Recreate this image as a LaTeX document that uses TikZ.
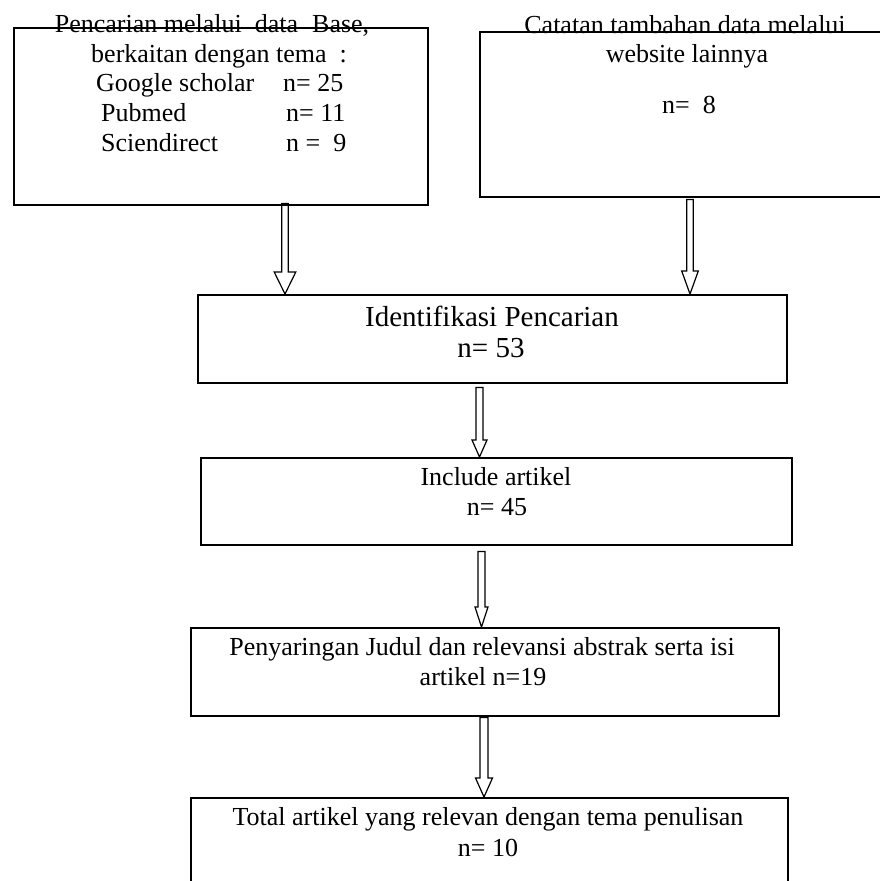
\documentclass[tikz,border=0pt]{standalone}
\usepackage{fontspec}
\setmainfont{Liberation Serif}
\usetikzlibrary{calc}
\tikzset{
  box/.style={draw, line width=1.5pt, rectangle, inner sep=0pt, anchor=north west},
  txt/.style={inner sep=0pt, font=\fontsize{26}{30}\selectfont},
  bigtxt/.style={inner sep=0pt, font=\fontsize{29}{33}\selectfont},
  arrowline/.style={draw, line width=1.2pt, line join=miter},
}
\newcommand\hollowarrow[5]{%
  \draw[arrowline] ($(#1)+(-#3,0)$) -- ($(#2)+(-#3,-#5)$) -- ($(#2)+(-#4,-#5)$) -- (#2)
    -- ($(#2)+(#4,-#5)$) -- ($(#2)+(#3,-#5)$) -- ($(#1)+(#3,0)$) -- cycle;}
\begin{document}
\begin{tikzpicture}[x=1pt,y=-1pt]
\useasboundingbox (0,0) rectangle (880,881);
\clip (0,0) rectangle (880,881);
% boxes
\node[box, minimum width=414pt, minimum height=177pt] (b1) at (13,27) {};
\node[box, minimum width=405pt, minimum height=165pt] (b2) at (479,31) {};
\node[box, minimum width=589pt, minimum height=88pt] (b3) at (197,294) {};
\node[box, minimum width=591pt, minimum height=87pt] (b4) at (200,457) {};
\node[box, minimum width=588pt, minimum height=88pt] (b5) at (190,627) {};
\node[box, minimum width=597pt, minimum height=100pt] (b6) at (190,797) {};
% texts box 1
\node[txt, anchor=base] (t1a) at (212,32) {Pencarian melalui\hspace{13pt}data\hspace{14pt}Base,};
\node[txt, anchor=base] (t1b) at (219,62) {berkaitan dengan tema~ :};
\node[txt, anchor=base west] (t1c) at (96,91) {Google scholar};
\node[txt, anchor=base west] (t1d) at (283,91) {n= 25};
\node[txt, anchor=base west] (t1e) at (101,121) {Pubmed};
\node[txt, anchor=base west] (t1f) at (286,121) {n= 11};
\node[txt, anchor=base west] (t1g) at (101,151) {Sciendirect};
\node[txt, anchor=base west] (t1h) at (286,151) {n =~ 9};
% texts box 2
\node[txt, anchor=base] (t2a) at (685,33) {Catatan tambahan data melalui};
\node[txt, anchor=base] (t2b) at (687,62) {website lainnya};
\node[txt, anchor=base] (t2c) at (689,113) {n=~ 8};
% texts lower boxes
\node[bigtxt, anchor=base] (t3a) at (492,326) {Identifikasi Pencarian};
\node[bigtxt, anchor=base] (t3b) at (491,357) {n= 53};
\node[txt, anchor=base] (t4a) at (496,485) {Include artikel};
\node[txt, anchor=base] (t4b) at (497,515) {n= 45};
\node[txt, anchor=base] (t5a) at (482,655) {Penyaringan Judul dan relevansi abstrak serta isi};
\node[txt, anchor=base] (t5b) at (483,685) {artikel n=19};
\node[txt, anchor=base] (t6a) at (488,825) {Total artikel yang relevan dengan tema penulisan};
\node[txt, anchor=base] (t6b) at (488,856) {n= 10};
% arrows
\coordinate (a1s) at ($(b1.south west)+(272,-2)$);
\coordinate (a1e) at (a1s |- b3.north);
\coordinate (a2s) at ($(b2.south west)+(211,2)$);
\coordinate (a2e) at (a2s |- b3.north);
\coordinate (a3s) at ($(b3.south west)+(282.5,4)$);
\coordinate (a3e) at (a3s |- b4.north);
\coordinate (a4s) at ($(b4.south west)+(281.5,6)$);
\coordinate (a4e) at (a4s |- b5.north);
\coordinate (a5s) at ($(b5.south west)+(294,1)$);
\coordinate (a5e) at (a5s |- b6.north);
\hollowarrow{a1s}{a1e}{3.3}{10.8}{22}
\hollowarrow{a2s}{a2e}{3.3}{8.3}{23}
\hollowarrow{a3s}{a3e}{3.5}{7.5}{17}
\hollowarrow{a4s}{a4e}{3.5}{6.5}{20}
\hollowarrow{a5s}{a5e}{4}{8.5}{19}
\end{tikzpicture}
\end{document}
